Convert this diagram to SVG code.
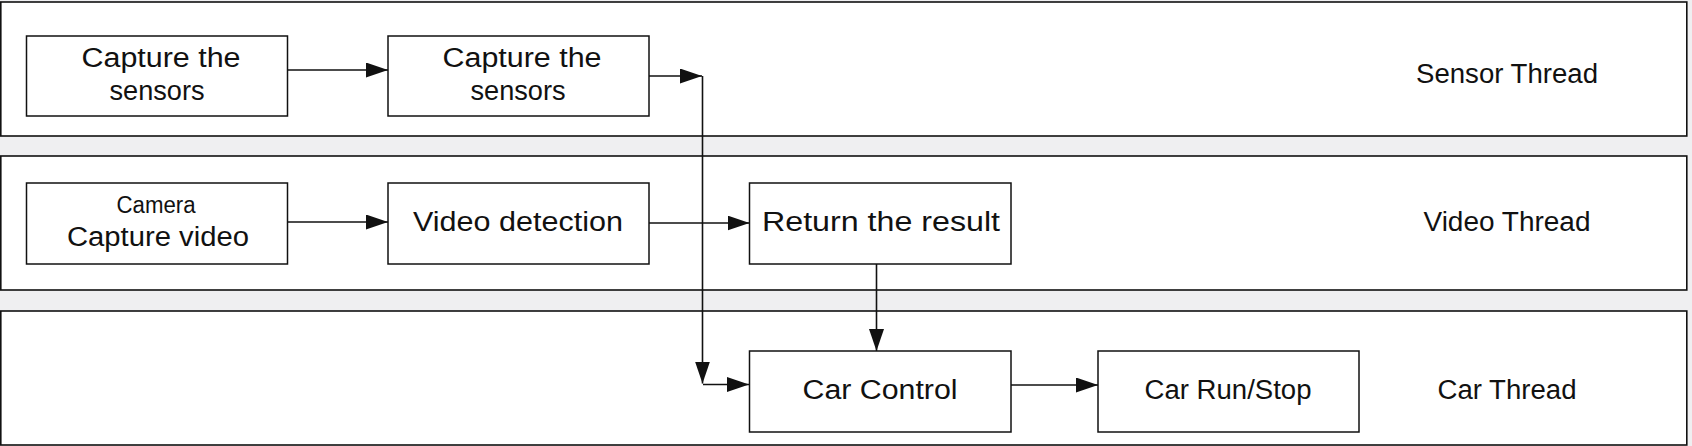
<svg xmlns="http://www.w3.org/2000/svg" width="1692" height="446" viewBox="0 0 1692 446">
<style>
.lane{fill:#ffffff;stroke:#111;stroke-width:1.6}
.box{fill:#ffffff;stroke:#111;stroke-width:1.5}
.t{font-family:"Liberation Sans","DejaVu Sans",Arial,sans-serif;font-size:27px;fill:#111;text-anchor:middle}
.s{font-size:23px}
.conn path{fill:none;stroke:#111;stroke-width:1.6}
</style>
<defs>
<marker id="ah" markerUnits="userSpaceOnUse" markerWidth="23" markerHeight="16" refX="22" refY="7.5" orient="auto">
<path d="M0,0 L22,7.5 L0,15 z" fill="#111"/>
</marker>
</defs>
<rect x="0" y="0" width="1692" height="446" fill="#efeff1"/>
<g id="lanes">
<rect class="lane" x="0.8" y="2" width="1686" height="134"/>
<rect class="lane" x="0.8" y="156" width="1686" height="134"/>
<rect class="lane" x="0.8" y="311" width="1686" height="134"/>
<text class="t" x="1507" y="83" textLength="182" lengthAdjust="spacingAndGlyphs">Sensor Thread</text>
<text class="t" x="1507" y="231" textLength="167" lengthAdjust="spacingAndGlyphs">Video Thread</text>
<text class="t" x="1507" y="399" textLength="139" lengthAdjust="spacingAndGlyphs">Car Thread</text>
</g>
<g id="sensor1">
<rect class="box" x="26.5" y="36" width="261" height="80"/>
<text class="t" x="161" y="67" textLength="159" lengthAdjust="spacingAndGlyphs">Capture the</text>
<text class="t" x="157" y="100" textLength="95" lengthAdjust="spacingAndGlyphs">sensors</text>
</g>
<g id="sensor2">
<rect class="box" x="388" y="36" width="261" height="80"/>
<text class="t" x="522" y="67" textLength="159" lengthAdjust="spacingAndGlyphs">Capture the</text>
<text class="t" x="518" y="100" textLength="95" lengthAdjust="spacingAndGlyphs">sensors</text>
</g>
<g id="camera">
<rect class="box" x="26.5" y="183" width="261" height="81"/>
<text class="t s" x="156" y="213" textLength="79" lengthAdjust="spacingAndGlyphs">Camera</text>
<text class="t" x="158" y="246" textLength="182" lengthAdjust="spacingAndGlyphs">Capture video</text>
</g>
<g id="videodetect">
<rect class="box" x="388" y="183" width="261" height="81"/>
<text class="t" x="518" y="231" textLength="210" lengthAdjust="spacingAndGlyphs">Video detection</text>
</g>
<g id="result">
<rect class="box" x="749.5" y="183" width="261.5" height="81"/>
<text class="t" x="881" y="231" textLength="238" lengthAdjust="spacingAndGlyphs">Return the result</text>
</g>
<g id="carcontrol">
<rect class="box" x="749.5" y="351" width="261.5" height="81"/>
<text class="t" x="880" y="399" textLength="155" lengthAdjust="spacingAndGlyphs">Car Control</text>
</g>
<g id="carrun">
<rect class="box" x="1098" y="351" width="261" height="81"/>
<text class="t" x="1228" y="399" textLength="167" lengthAdjust="spacingAndGlyphs">Car Run/Stop</text>
</g>
<g class="conn" id="connectors">
<path d="M288,70 H388" marker-end="url(#ah)"/>
<path d="M649,76 H702" marker-end="url(#ah)"/>
<path d="M702.5,76 V383.5" marker-end="url(#ah)"/>
<path d="M703,384.5 H749" marker-end="url(#ah)"/>
<path d="M288,222 H388" marker-end="url(#ah)"/>
<path d="M649,223 H749.5" marker-end="url(#ah)"/>
<path d="M876.5,264 V351" marker-end="url(#ah)"/>
<path d="M1011,385 H1098" marker-end="url(#ah)"/>
</g>
</svg>
